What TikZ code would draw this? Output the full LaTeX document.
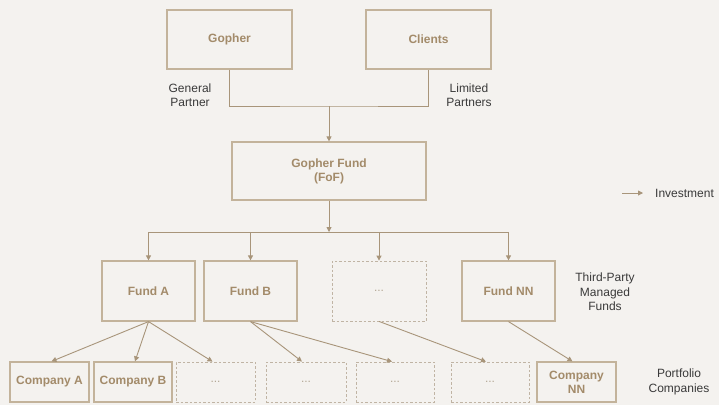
\documentclass[tikz,border=0pt]{standalone}
\usepackage{fontspec}
\setmainfont{Liberation Sans}
\usetikzlibrary{arrows.meta}
\definecolor{bg}{HTML}{F4F2EF}
\definecolor{boxtxt}{HTML}{A38B6A}
\definecolor{boxline}{HTML}{C3B39B}
\definecolor{conn}{HTML}{A8957A}
\definecolor{dashline}{HTML}{C0B4A4}
\definecolor{dottxt}{HTML}{B3A794}
\definecolor{lbl}{HTML}{3A3A3A}
\tikzset{
  fbox/.style={draw=boxline, line width=1.2pt, fill=bg, inner sep=0pt, align=center,
    font=\fontsize{12}{14}\selectfont\bfseries, text=boxtxt},
  dbox/.style={draw=dashline, line width=0.8pt, dash pattern=on 2.5pt off 2pt, fill=bg,
    inner sep=0pt, font=\fontsize{12}{14}\selectfont, text=dottxt},
  lab/.style={align=center, font=\fontsize{12}{14.5}\selectfont, text=lbl, inner sep=0pt},
  arr/.style={draw=conn, line width=0.9pt, -{Triangle[length=5pt,width=5pt]}},
  ln/.style={draw=conn, line width=0.9pt},
}
\begin{document}
\begin{tikzpicture}[x=1pt,y=-1pt]
\fill[bg] (0,0) rectangle (719,405);
\useasboundingbox (0,0) rectangle (719,405);
% top
\node[fbox, minimum width=125, minimum height=59] (gopher) at (229.5,39.5) {Gopher};
\node[fbox, minimum width=125, minimum height=59] (clients) at (428.5,39.5) {Clients};
\node[fbox, minimum width=194, minimum height=58] (fof) at (329,171) {Gopher Fund\\(FoF)};
\node[lab] (gp) at (190,95) {General\\Partner};
\node[lab] (lp) at (469,95) {Limited\\Partners};
% funds
\node[fbox, minimum width=93, minimum height=60] (fa) at (148.5,291) {Fund A};
\node[fbox, minimum width=93, minimum height=60] (fb) at (250.5,291) {Fund B};
\node[dbox, minimum width=94, minimum height=60] (fd) at (379,291) {...};
\node[fbox, minimum width=93, minimum height=60] (fnn) at (508.5,291) {Fund NN};
\node[lab] (tp) at (605,292) {Third-Party\\Managed\\Funds};
% companies
\node[fbox, minimum width=79, minimum height=40] (ca) at (49.5,382) {Company A};
\node[fbox, minimum width=78, minimum height=40] (cb) at (133,382) {Company B};
\node[dbox, minimum width=79, minimum height=40] (d1) at (215.5,382) {...};
\node[dbox, minimum width=80, minimum height=40] (d2) at (306,382) {...};
\node[dbox, minimum width=78, minimum height=40] (d3) at (395,382) {...};
\node[dbox, minimum width=78, minimum height=40] (d4) at (490,382) {...};
\node[fbox, minimum width=79, minimum height=40] (cnn) at (576.5,382) {Company\\NN};
\node[lab] (pc) at (679,382) {Portfolio\\Companies};
% legend
\coordinate (lg1) at (622,193);
\node[lab, anchor=west] (inv) at (655,193) {Investment};
\draw[arr] (lg1) -- (inv.west -| 643,0);
% connectors
\coordinate (j1) at (329,106);
\coordinate (j2) at (329,232);
\draw[ln] (gopher.south) |- (j1) -| (clients.south);
\draw[arr] (j1) -- (fof.north);
\draw[arr] (fof.south) -- (j2);
\draw[ln] (fa.north |- j2) -- (fnn.north |- j2);
\draw[arr] (fa.north |- j2) -- (fa.north);
\draw[arr] (fb.north |- j2) -- (fb.north);
\draw[arr] (fd.north |- j2) -- (fd.north);
\draw[arr] (fnn.north |- j2) -- (fnn.north);
\draw[arr] (fa.south) -- ([xshift=2pt]ca.north);
\draw[arr] (fa.south) -- ([xshift=2pt]cb.north);
\draw[arr] (fa.south) -- ([xshift=-3pt]d1.north);
\draw[arr] (fb.south) -- ([xshift=-4pt]d2.north);
\draw[arr] (fb.south) -- ([xshift=-3pt]d3.north);
\draw[arr] (fd.south) -- ([xshift=-4pt]d4.north);
\draw[arr] (fnn.south) -- ([xshift=-4pt]cnn.north);
\end{tikzpicture}
\end{document}
